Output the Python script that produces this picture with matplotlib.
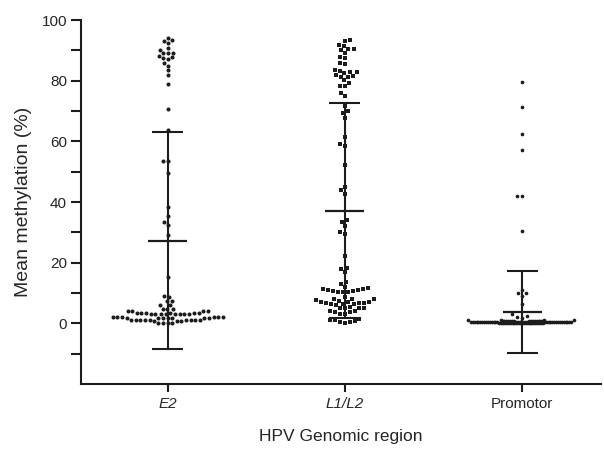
import numpy as np
import matplotlib
matplotlib.use("Agg")
import matplotlib.pyplot as plt

# ---------------- data ----------------
categories = ["E2", "L1/L2", "Promotor"]

e2_values = [94.2, 93.3, 93.1, 92.4, 90.8, 90.2, 89.2, 89.1, 89.0, 88.2, 87.7, 87.5,
             87.1, 85.7, 85.0, 83.4, 81.8, 79.0, 70.7, 63.6, 53.6, 53.6, 49.7, 38.2,
             35.3, 33.3, 32.4, 29.0, 15.3, 8.9, 8.6, 7.4, 7.2, 6.0, 6.0,
             4.8, 4.8, 4.7, 4.1, 4.1, 4.0, 4.0, 3.5, 3.5, 3.4, 3.4, 3.3, 3.3,
             3.2, 3.2, 3.2, 3.2, 3.1, 3.1, 3.1, 3.1, 2.1, 2.1, 2.0, 2.0, 2.0, 2.0,
             1.9, 1.9, 1.9, 1.9, 1.8, 1.8, 1.8, 1.0, 1.1, 1.0, 0.9, 1.0, 1.1, 1.0,
             0.9, 1.0, 1.2, 0.8, 1.0, 0.1, 0.0, 0.1, 0.0]

l1l2_values = [93.5, 93.2, 91.9, 91.3, 90.5, 90.4, 90.1, 89.2, 87.9, 87.5, 85.9, 85.6,
               83.6, 83.3, 82.9, 82.7, 82.4, 81.8, 81.6, 81.3, 81.3, 80.2, 79.3, 78.2,
               78.2, 75.9, 75.0, 71.6, 70.1, 69.3, 67.7, 61.5, 59.0, 58.5, 52.2, 45.0,
               43.9, 42.7, 34.1, 33.4, 32.0, 30.1, 29.5, 22.1, 18.3, 17.9, 16.8, 13.5,
               12.9, 11.9, 11.6, 11.4, 11.2, 11.0, 10.9, 10.8, 10.6, 10.4, 10.4, 10.2,
               8.7, 8.0, 7.9, 7.9, 7.6, 7.4, 7.1, 7.1, 7.1, 6.8, 6.8, 6.7,
               6.5, 6.3, 6.3, 5.9, 5.4, 5.0, 5.0, 4.9, 4.9,
               4.1, 4.0, 3.6, 3.6, 3.1, 3.1,
               1.4, 1.2, 1.0, 0.8, 0.6, 0.4, 0.0]

promotor_high = [79.6, 71.3, 62.4, 57.1, 41.9, 41.9, 30.3, 10.9, 9.9, 9.9, 8.9, 6.5,
                 3.0, 2.5, 2.1, 1.9, 1.2, 1.2]
promotor_low = [0.0, 0.0, 0.0, 0.0, 0.0, 0.0, 0.0, 0.1, 0.1, 0.1, 0.1, 0.1, 0.1, 0.1,
                0.1, 0.2, 0.2, 0.2, 0.2, 0.2, 0.2, 0.2, 0.2, 0.2, 0.3, 0.3, 0.3, 0.3,
                0.3, 0.3, 0.3, 0.3, 0.3, 0.3, 0.4, 0.4, 0.4, 0.4, 0.4, 0.4, 0.4, 0.4,
                0.4, 0.4, 0.5, 0.5, 0.5, 0.5, 0.5, 0.5, 0.5, 0.5, 0.5, 0.6, 0.6, 0.6,
                0.6, 0.6, 0.6, 0.6, 0.6, 0.7, 0.7, 0.7, 0.7, 0.7, 0.7, 0.8, 0.8, 0.8,
                0.8, 0.8, 0.9, 0.9, 0.9, 0.9, 1.0, 1.0]

means = [27.2, 37.1, 3.7]
sds = [35.8, 35.4, 13.5]

y_ticks = [0, 20, 40, 60, 80, 100]
y_minor = [-10, 10, 30, 50, 70, 90]

# ---------------- style ----------------
W, H, DPI = 604, 449, 100
plt.rcParams["font.family"] = ["Liberation Sans", "DejaVu Sans"]
tick_fs = 11
xlab_fs = 12.5
ylab_fs = 14
txt_col = "#262626"
ink = "#1c1c1c"

fig = plt.figure(figsize=(W / DPI, H / DPI), dpi=DPI)
L, R, B, T = 81, 601, 384, 20
ax = fig.add_axes([L / W, 1 - B / H, (R - L) / W, (B - T) / H])
ax.set_xlim(-0.49, 2.446)
ax.set_ylim(-20, 100)

# pixel scales
px_x = (R - L) / (2.446 + 0.49)
px_y = (B - T) / 120.0


def swarm(vals, radii):
    vals = np.asarray(vals, float)
    radii = np.asarray(radii, float)
    order = np.argsort(vals, kind="stable")
    placed = []
    offs = np.zeros(len(vals))
    for i in order:
        y = vals[i] * px_y
        r = radii[i]
        cands = [0.0]
        neigh = []
        for xp, yp, rp in placed:
            dy = y - yp
            dd = r + rp
            if abs(dy) < dd:
                dx = np.sqrt(dd * dd - dy * dy)
                neigh.append((xp, yp, rp))
                cands += [xp + dx, xp - dx]
        cands.sort(key=lambda c: (round(abs(c), 6), c))
        chosen = cands[-1]
        for c in cands:
            if all((c - xp) ** 2 + (y - yp) ** 2 >= (r + rp) ** 2 - 1e-6 for xp, yp, rp in neigh):
                chosen = c
                break
        placed.append((chosen, y, r))
        offs[i] = chosen / px_x
    return offs


# E2 circles
e2_off = swarm(e2_values, [2.35] * len(e2_values))
ax.scatter(0 + e2_off, e2_values, s=8.5, marker="o", color=ink, linewidths=0, zorder=3)

# L1/L2 squares
l_off = swarm(l1l2_values, [2.55] * len(l1l2_values))
ax.scatter(1 + l_off, l1l2_values, s=12.5, marker="s", color=ink, linewidths=0, zorder=3)

# Promotor small dots
p_vals = promotor_high + promotor_low
p_rad = [2.65] * len(promotor_high) + [0.95] * len(promotor_low)
p_off = swarm(p_vals, p_rad)
ax.scatter(2 + p_off, p_vals, s=7, marker="o", color=ink, linewidths=0, zorder=3)

# mean +- SD
mean_hw = 19.5 / px_x
cap_hw = 15.5 / px_x
for i, (m, s) in enumerate(zip(means, sds)):
    ax.plot([i, i], [m - s, m + s], color=ink, lw=1.5, zorder=4, solid_capstyle="butt")
    ax.plot([i - mean_hw, i + mean_hw], [m, m], color=ink, lw=1.6, zorder=4, solid_capstyle="butt")
    ax.plot([i - cap_hw, i + cap_hw], [m - s, m - s], color=ink, lw=1.5, zorder=4, solid_capstyle="butt")
    ax.plot([i - cap_hw, i + cap_hw], [m + s, m + s], color=ink, lw=1.5, zorder=4, solid_capstyle="butt")

# axes styling
for sp in ["top", "right"]:
    ax.spines[sp].set_visible(False)
for sp in ["left", "bottom"]:
    ax.spines[sp].set_linewidth(1.5)
    ax.spines[sp].set_color(ink)

ax.set_yticks(y_ticks)
ax.set_yticks(y_minor, minor=True)
ax.tick_params(axis="y", which="both", length=7, width=1.5, color=ink, pad=3,
               labelsize=tick_fs, labelcolor=txt_col)
ax.set_xticks(range(len(categories)))
ax.set_xticklabels(categories)
ax.tick_params(axis="x", length=5.5, width=1.5, color=ink, pad=4,
               labelsize=tick_fs, labelcolor=txt_col)
for lab in ax.get_xticklabels():
    if lab.get_text() in ("E2", "L1/L2"):
        lab.set_style("italic")

ax.set_xlabel("HPV Genomic region", fontsize=xlab_fs, color=txt_col, labelpad=13)
ax.set_ylabel("Mean methylation (%)", fontsize=ylab_fs, color=txt_col, labelpad=7)

fig.savefig("out.png", dpi=DPI)
